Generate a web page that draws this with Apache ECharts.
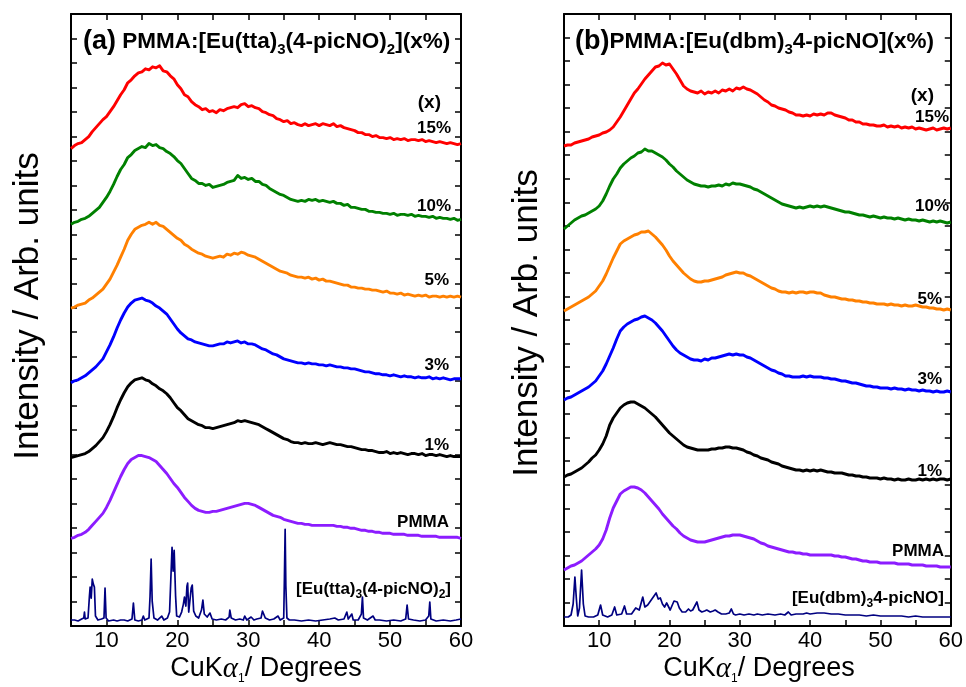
<!DOCTYPE html>
<html>
<head>
<meta charset="utf-8">
<script src="https://cdn.jsdelivr.net/npm/echarts@6.0.0/dist/echarts.min.js"></script>
<style>
  html, body { margin: 0; padding: 0; background: #fff; }
  #chart { width: 966px; height: 687px; }
</style>
</head>
<body>
<div id="chart"></div>
<script>
// Diffraction angle grid (2θ, degrees) shared by the amorphous patterns
const twoTheta = [
  5, 5.5, 6, 6.5, 7, 7.5, 8, 8.5, 9, 9.5,
  10, 10.5, 11, 11.5, 12, 12.5, 13, 13.5, 14, 14.5,
  15, 15.5, 16, 16.5, 17, 17.5, 18, 18.5, 19, 19.5,
  20, 20.5, 21, 21.5, 22, 22.5, 23, 23.5, 24, 24.5,
  25, 25.5, 26, 26.5, 27, 27.5, 28, 28.5, 29, 29.5,
  30, 30.5, 31, 31.5, 32, 32.5, 33, 33.5, 34, 34.5,
  35, 35.5, 36, 36.5, 37, 37.5, 38, 38.5, 39, 39.5,
  40, 40.5, 41, 41.5, 42, 42.5, 43, 43.5, 44, 44.5,
  45, 45.5, 46, 46.5, 47, 47.5, 48, 48.5, 49, 49.5,
  50, 50.5, 51, 51.5, 52, 52.5, 53, 53.5, 54, 54.5,
  55, 55.5, 56, 56.5, 57, 57.5, 58, 58.5, 59, 59.5,
  60
];

// ---- Panel (a): PMMA:[Eu(tta)3(4-picNO)2] films (stacked intensity, arb. units) ----
const ttaX15 = [
  479,482,484,485,488,491,496,500,504,508,
  511,516,521,527,533,538,545,548,552,555,
  556,559,558,561,560,562,557,556,552,549,
  543,539,533,531,526,523,521,518,519,516,
  517,515,518,517,519,520,521,520,523,524,
  521,522,520,519,516,515,513,512,509,508,
  506,507,504,505,503,502,504,502,503,504,
  502,504,503,502,504,501,502,500,499,498,
  497,495,495,493,493,491,492,490,490,489,
  490,488,489,488,489,487,488,488,487,488,
  486,487,486,485,486,485,484,485,484,483,
  484
];
const ttaX10 = [
  403,405,406,408,409,411,414,417,420,425,
  430,436,443,451,458,463,470,473,477,479,
  481,480,484,482,483,480,479,476,474,471,
  467,464,459,454,449,447,444,444,442,443,
  440,441,442,443,445,446,447,452,449,450,
  448,449,446,446,443,442,439,437,435,433,
  432,430,428,427,426,427,426,428,427,428,
  426,427,426,425,426,424,424,422,423,420,
  420,419,418,418,416,416,415,415,414,414,
  413,414,412,413,413,412,413,411,412,411,
  411,410,411,409,410,409,409,408,409,407,
  408
];
const ttaX5 = [
  319,320,322,323,324,327,329,332,335,338,
  343,348,355,362,370,378,387,393,398,400,
  402,403,405,403,405,402,401,398,395,392,
  389,387,383,381,378,376,374,373,371,370,
  369,370,371,370,373,372,374,373,375,374,
  372,371,370,368,366,364,362,360,358,356,
  355,354,352,351,350,350,349,350,348,349,
  347,348,346,346,345,344,343,342,342,340,
  340,339,339,338,338,337,337,336,335,336,
  334,334,333,334,332,333,332,331,332,331,
  332,330,331,331,330,331,330,331,330,331,
  330
];
const ttaX3 = [
  244,246,247,249,251,254,257,260,264,268,
  275,282,290,299,307,314,320,324,327,328,
  329,327,326,324,321,319,316,313,308,303,
  298,294,291,288,287,285,284,283,282,281,
  281,282,283,283,285,284,285,286,284,285,
  283,283,282,280,278,277,275,273,272,270,
  268,267,266,265,264,264,263,264,263,263,
  262,262,261,262,261,260,260,259,259,258,
  258,257,256,255,255,254,253,253,252,252,
  251,252,251,250,251,250,250,249,250,249,
  249,250,248,249,248,249,248,247,248,248,
  248
];
const ttaX1 = [
  169,170,171,172,173,175,178,181,185,189,
  195,202,210,219,227,234,240,244,247,248,
  249,247,246,243,241,238,236,233,229,224,
  219,216,212,208,206,204,202,201,199,199,
  198,199,200,201,202,203,204,206,205,206,
  205,204,203,202,200,198,196,194,192,190,
  188,187,185,184,184,183,184,183,183,184,
  183,182,183,184,183,182,182,181,180,180,
  179,178,177,177,176,176,175,174,174,175,
  173,174,173,174,173,172,173,173,172,173,
  171,172,172,171,172,171,170,171,170,170,
  170
];
const pmmaA = [
  88,89,91,92,94,97,101,105,109,113,
  119,126,134,142,150,157,163,167,169,171,
  171,170,169,167,165,161,157,153,148,143,
  139,134,129,125,121,118,116,115,114,114,
  115,115,116,117,118,119,120,121,122,123,
  123,122,121,119,117,115,113,111,110,109,
  107,106,105,104,103,103,102,102,101,101,
  101,101,101,101,101,100,100,99,99,98,
  98,97,96,96,95,95,94,94,93,93,
  93,92,92,92,92,91,91,91,91,90,
  90,90,90,90,89,89,89,89,89,89,
  88
];
// Crystalline complex [Eu(tta)3(4-picNO)2]: [2θ, intensity]
const ttaComplex = [
  [5,6],[5.5,6],[6,5],[6.5,7],[6.8,8],[6.9,14],[7.0,7],[7.4,8],[7.6,30],[7.7,39],
  [7.85,28],[8.0,47],[8.15,42],[8.3,39],[8.45,10],[8.8,6],[9.3,7],[9.65,8],[9.8,38],[9.95,8],
  [10.3,5],[11,6],[11.5,5],[12,6],[12.5,6],[13,5],[13.6,7],[13.8,23],[14.0,6],[14.5,5],
  [15,6],[15.2,10],[15.4,6],[16.0,8],[16.15,30],[16.3,67],[16.45,25],[16.7,8],[17.2,6],[17.8,10],
  [18.1,6],[18.6,8],[18.9,14],[19.1,12],[19.25,79],[19.4,55],[19.55,76],[19.75,30],[19.9,10],[20.3,9],
  [20.6,14],[20.85,22],[21.0,29],[21.2,20],[21.35,40],[21.45,43],[21.6,14],[21.8,16],[21.95,38],[22.1,41],
  [22.3,15],[22.6,10],[23.0,8],[23.4,16],[23.6,26],[23.8,12],[24.2,9],[24.6,13],[24.9,7],[25.5,6],
  [26.2,7],[26.8,6],[27.3,9],[27.4,16],[27.6,8],[28.2,6],[28.8,7],[29.3,6],[29.5,10],[29.8,6],
  [30.4,9],[30.8,6],[31.2,7],[31.8,8],[32.0,15],[32.2,16],[32.4,8],[33,6],[33.6,7],[34.2,10],
  [34.5,6],[35.0,8],[35.1,50],[35.2,97],[35.3,40],[35.45,8],[35.8,6],[36.5,6],[37.5,5],[38.5,6],
  [39.5,5],[40.5,6],[41.5,7],[42.2,8],[42.7,6],[43.5,7],[43.9,14],[44.1,7],[44.6,12],[44.8,6],
  [45.5,6],[45.95,12],[46.1,29],[46.25,8],[46.8,6],[47.6,10],[47.9,6],[48.5,6],[49.5,5],[50.5,6],
  [51.5,5],[52.2,7],[52.4,21],[52.6,7],[53.3,6],[54.2,5],[55.0,6],[55.45,10],[55.6,24],[55.75,7],
  [56.5,5],[57.5,6],[58.5,5],[59.3,6],[60,7]
];

// ---- Panel (b): PMMA:[Eu(dbm)3 4-picNO] films ----
const dbmX15 = [
  480,481,481,483,484,485,486,487,489,490,
  491,493,494,496,499,504,509,515,521,527,
  533,537,542,547,551,555,559,560,563,561,
  562,557,552,546,540,537,535,534,533,535,
  532,534,533,535,533,536,535,537,535,538,
  537,539,537,536,534,532,529,526,524,521,
  520,518,517,516,514,513,511,511,510,511,
  510,512,511,512,511,513,513,511,510,509,
  508,506,506,504,504,502,502,501,501,500,
  500,501,499,500,499,500,498,499,498,499,
  497,498,497,496,497,498,496,497,498,497,
  498
];
const dbmX10 = [
  397,400,403,406,408,410,411,413,415,417,
  420,425,432,440,447,452,458,462,465,468,
  470,473,474,477,475,475,473,471,469,466,
  462,459,455,452,449,446,444,442,441,440,
  440,439,440,440,441,440,442,441,443,442,
  442,441,440,439,437,436,434,432,430,428,
  426,424,422,421,420,419,418,419,418,419,
  420,419,420,419,420,419,418,417,416,415,
  414,414,413,412,411,411,410,409,410,409,
  408,409,408,408,407,408,407,406,407,406,
  406,405,406,405,404,405,404,405,404,403,
  404
];
const dbmX5 = [
  315,317,319,321,323,325,327,329,332,335,
  340,345,352,360,368,375,382,385,387,389,
  391,392,394,394,395,392,389,385,381,376,
  370,365,361,357,353,350,347,345,344,344,
  345,345,346,347,348,349,351,352,353,354,
  353,353,351,350,348,346,344,342,340,338,
  337,335,334,334,333,334,333,334,334,333,
  334,334,333,333,331,330,329,329,328,327,
  327,326,326,325,325,324,324,323,323,322,
  322,322,321,322,321,321,320,321,320,320,
  321,320,319,319,318,318,317,317,316,317,
  316
];
const dbmX3 = [
  226,228,229,231,233,235,237,239,242,245,
  250,255,262,270,278,287,295,299,302,304,
  306,307,309,310,308,306,303,299,295,290,
  285,280,276,273,271,269,267,266,266,265,
  267,266,268,268,269,270,271,272,271,272,
  271,271,269,268,266,264,262,260,258,256,
  255,253,252,250,250,249,249,249,250,249,
  250,249,249,249,248,248,247,247,246,245,
  245,244,243,243,242,241,240,240,239,239,
  238,238,238,237,238,237,237,236,237,236,
  236,235,236,235,235,234,235,234,234,235,
  234
];
const dbmX1 = [
  149,151,152,154,156,158,161,164,168,171,
  176,182,190,201,208,213,218,221,223,224,
  224,222,220,218,215,212,209,205,201,197,
  193,190,187,184,181,179,178,177,176,176,
  176,176,177,177,178,178,179,179,178,178,
  177,176,174,173,171,170,168,167,166,164,
  163,162,160,159,158,157,156,156,155,156,
  155,156,155,156,155,154,154,153,153,153,
  152,151,151,150,150,149,149,148,148,148,
  147,148,147,147,146,147,146,146,147,146,
  146,147,146,147,146,147,146,147,147,146,
  147
];
const pmmaB = [
  56,58,60,61,63,65,68,71,74,77,
  81,87,96,108,118,125,132,135,137,139,
  139,138,136,133,129,125,121,117,112,108,
  104,100,97,93,90,88,86,85,84,84,
  84,85,86,87,88,89,90,90,91,91,
  91,90,89,88,87,85,83,82,80,79,
  78,77,76,75,74,74,73,73,72,72,
  71,71,71,71,71,71,71,70,70,69,
  69,68,67,67,66,65,65,64,64,64,
  63,63,63,63,63,62,62,62,62,61,
  61,61,61,60,60,60,60,59,59,59,
  59
];
// Crystalline complex [Eu(dbm)3 4-picNO]: [2θ, intensity]
const dbmComplex = [
  [5,9],[5.6,9],[6.0,11],[6.3,22],[6.55,49],[6.75,28],[6.95,10],[7.2,18],[7.5,56],[7.75,22],
  [8.0,10],[8.5,9],[9.2,9],[9.8,11],[10.2,21],[10.5,11],[11.2,9],[11.8,11],[12.2,19],[12.5,11],
  [13.2,12],[13.6,20],[13.9,12],[14.6,12],[15.2,18],[15.7,16],[16.2,29],[16.5,19],[16.9,21],[17.3,25],
  [17.6,28],[17.8,26],[18.1,33],[18.4,27],[18.7,28],[19.0,22],[19.3,19],[19.6,23],[19.8,22],[20.1,16],
  [20.4,21],[20.65,25],[20.9,23],[21.1,24],[21.4,18],[21.8,14],[22.3,14],[22.7,17],[23.0,15],[23.3,16],
  [23.6,20],[23.9,24],[24.2,16],[24.6,14],[25.0,15],[25.3,16],[25.8,14],[26.2,15],[26.5,16],[26.9,14],
  [27.4,12],[28.0,12],[28.5,13],[28.8,17],[29.1,12],[29.4,11],[30.0,12],[30.6,11],[31.3,12],[32.0,11],
  [32.5,12],[33.2,11],[34.0,12],[35.0,11],[35.8,12],[36.4,11],[36.9,14],[37.3,11],[38.0,12],[39.0,12],
  [39.5,13],[40.0,12],[41.0,13],[42.0,13],[43.0,12],[44.0,12],[45.0,11],[46.0,11],[47.0,11],[48.0,10],
  [49.0,11],[50.0,10],[51.0,10],[52.0,10],[53.0,10],[54.0,9],[55.0,10],[56.0,9],[57.0,9],[58.0,9],
  [59.0,9],[60,9]
];

const loadingLabels = ['15%', '10%', '5%', '3%', '1%', 'PMMA'];

const FONT = '"Liberation Sans", Arial, Helvetica, sans-serif';
const COLORS = {
  x15: '#ff0000', x10: '#008000', x5: '#ff8000', x3: '#0000ff',
  x1: '#000000', pmma: '#8c1cff', complex: '#000080'
};
const AMORPHOUS_WIDTH = 2.9;
const COMPLEX_WIDTH = 1.7;

const chart = echarts.init(document.getElementById('chart'), null, { renderer: 'canvas' });

const pair = vals => twoTheta.map((t, i) => [t, vals[i]]);

function xAxisPair(gridIndex) {
  const line = { show: true, onZero: false, lineStyle: { color: '#000', width: 2 } };
  const tick = { show: true, inside: true, length: 6, lineStyle: { color: '#000', width: 1.5 } };
  return [
    {
      type: 'value', gridIndex, position: 'bottom', min: 5, max: 60, interval: 5,
      axisLine: line, axisTick: tick, splitLine: { show: false },
      axisLabel: {
        color: '#000', fontSize: 22, fontFamily: FONT, margin: 4,
        showMinLabel: true, showMaxLabel: true,
        formatter: v => (v % 10 === 0 ? String(v) : '')
      }
    },
    {
      type: 'value', gridIndex, position: 'top', min: 5, max: 60, interval: 5,
      axisLine: line, axisTick: tick, splitLine: { show: false }, axisLabel: { show: false }
    }
  ];
}

function yAxisPair(gridIndex, max, steps) {
  const line = { show: true, onZero: false, lineStyle: { color: '#000', width: 2 } };
  const tick = { show: true, inside: true, length: 6, lineStyle: { color: '#000', width: 1.5 } };
  const common = {
    type: 'value', gridIndex, min: 0, max, interval: max / steps,
    axisLine: line, axisTick: tick, splitLine: { show: false }, axisLabel: { show: false }
  };
  return [
    Object.assign({ position: 'left' }, common),
    Object.assign({ position: 'right' }, common)
  ];
}

function curve(name, xi, yi, data, color, width) {
  return {
    name, type: 'line', xAxisIndex: xi, yAxisIndex: yi, data,
    showSymbol: false, symbol: 'none', silent: true, animation: false,
    lineStyle: { color, width, join: 'round' }, itemStyle: { color }
  };
}

function label(text, x, y, size, align) {
  return {
    type: 'text', x, y, silent: true,
    style: {
      text, fill: '#000', font: 'bold ' + size + 'px ' + FONT,
      fontSize: size, fontWeight: 'bold', fontFamily: FONT,
      align: align || 'right', textAlign: align || 'right',
      verticalAlign: 'middle', textVerticalAlign: 'middle'
    }
  };
}

function richLabel(text, x, y, rich, align) {
  return {
    type: 'text', x, y, silent: true,
    style: {
      text, rich, fill: '#000',
      align: align || 'left', textAlign: align || 'left',
      verticalAlign: 'middle', textVerticalAlign: 'middle'
    }
  };
}

const titleRich = {
  p: { fontSize: 27, fontWeight: 'bold', fontFamily: FONT, lineHeight: 30, fill: '#000', color: '#000' },
  t: { fontSize: 22.5, fontWeight: 'bold', fontFamily: FONT, lineHeight: 30, fill: '#000', color: '#000' },
  s: { fontSize: 15, fontWeight: 'bold', fontFamily: FONT, lineHeight: 16, verticalAlign: 'bottom', fill: '#000', color: '#000' }
};
const tagRich = {
  t: { fontSize: 17, fontWeight: 'bold', fontFamily: FONT, lineHeight: 24, fill: '#000', color: '#000' },
  s: { fontSize: 12, fontWeight: 'bold', fontFamily: FONT, lineHeight: 12, verticalAlign: 'bottom', fill: '#000', color: '#000' }
};
const axisTitleRich = {
  t: { fontSize: 27, fontFamily: FONT, lineHeight: 32, fill: '#000', color: '#000' },
  g: { fontSize: 29, fontFamily: '"Liberation Serif", "DejaVu Serif", serif', fontStyle: 'italic', lineHeight: 32, fill: '#000', color: '#000' },
  s: { fontSize: 12, fontFamily: FONT, lineHeight: 12, verticalAlign: 'bottom', fill: '#000', color: '#000' }
};

function yTitle(x, y) {
  return {
    type: 'text', x, y, rotation: Math.PI / 2, silent: true,
    style: {
      text: 'Intensity / Arb. units', fill: '#000',
      font: '35px ' + FONT, fontSize: 35, fontFamily: FONT,
      align: 'center', textAlign: 'center', verticalAlign: 'middle', textVerticalAlign: 'middle'
    }
  };
}

const option = {
  backgroundColor: '#fff',
  animation: false,
  grid: [
    { left: 71, top: 14, width: 390, height: 612, containLabel: false },
    { left: 564, top: 14, width: 390, height: 612, containLabel: false }
  ],
  xAxis: [...xAxisPair(0), ...xAxisPair(1)],
  yAxis: [...yAxisPair(0, 614, 25), ...yAxisPair(1, 612, 26)],
  series: [
    curve('[Eu(tta)3(4-picNO)2]', 0, 0, ttaComplex, COLORS.complex, COMPLEX_WIDTH),
    curve(loadingLabels[5], 0, 0, pair(pmmaA), COLORS.pmma, AMORPHOUS_WIDTH),
    curve(loadingLabels[4], 0, 0, pair(ttaX1), COLORS.x1, AMORPHOUS_WIDTH),
    curve(loadingLabels[3], 0, 0, pair(ttaX3), COLORS.x3, AMORPHOUS_WIDTH),
    curve(loadingLabels[2], 0, 0, pair(ttaX5), COLORS.x5, AMORPHOUS_WIDTH),
    curve(loadingLabels[1], 0, 0, pair(ttaX10), COLORS.x10, AMORPHOUS_WIDTH),
    curve(loadingLabels[0], 0, 0, pair(ttaX15), COLORS.x15, AMORPHOUS_WIDTH),

    curve('[Eu(dbm)3 4-picNO]', 2, 2, dbmComplex, COLORS.complex, COMPLEX_WIDTH),
    curve(loadingLabels[5], 2, 2, pair(pmmaB), COLORS.pmma, AMORPHOUS_WIDTH),
    curve(loadingLabels[4], 2, 2, pair(dbmX1), COLORS.x1, AMORPHOUS_WIDTH),
    curve(loadingLabels[3], 2, 2, pair(dbmX3), COLORS.x3, AMORPHOUS_WIDTH),
    curve(loadingLabels[2], 2, 2, pair(dbmX5), COLORS.x5, AMORPHOUS_WIDTH),
    curve(loadingLabels[1], 2, 2, pair(dbmX10), COLORS.x10, AMORPHOUS_WIDTH),
    curve(loadingLabels[0], 2, 2, pair(dbmX15), COLORS.x15, AMORPHOUS_WIDTH)
  ],
  graphic: [
    // panel titles
    richLabel('{p|(a)}{t| PMMA:[Eu(tta)}{s|3}{t|(4-picNO)}{s|2}{t|](x%)}', 83, 42, titleRich),
    richLabel('{p|(b)}{t|PMMA:[Eu(dbm)}{s|3}{t|4-picNO](x%)}', 575, 42, titleRich),

    // loading tags, panel (a)
    label('(x)', 441, 103, 19),
    label(loadingLabels[0], 451, 128, 17),
    label(loadingLabels[1], 451, 206, 17),
    label(loadingLabels[2], 449, 280, 17),
    label(loadingLabels[3], 449, 365, 17),
    label(loadingLabels[4], 449, 445, 17),
    label(loadingLabels[5], 449, 522, 17),
    richLabel('{t|[Eu(tta)}{s|3}{t|(4-picNO)}{s|2}{t|]}', 451, 589, tagRich, 'right'),

    // loading tags, panel (b)
    label('(x)', 934, 96, 19),
    label(loadingLabels[0], 949, 117, 17),
    label(loadingLabels[1], 949, 206, 17),
    label(loadingLabels[2], 942, 299, 17),
    label(loadingLabels[3], 942, 379, 17),
    label(loadingLabels[4], 942, 471, 17),
    label(loadingLabels[5], 944, 551, 17),
    richLabel('{t|[Eu(dbm)}{s|3}{t|4-picNO]}', 944, 598, tagRich, 'right'),

    // axis titles
    richLabel('{t|CuK}{g|α}{s|1}{t|/ Degrees}', 266, 669, axisTitleRich, 'center'),
    richLabel('{t|CuK}{g|α}{s|1}{t|/ Degrees}', 759, 669, axisTitleRich, 'center'),
    yTitle(28, 306),
    yTitle(527, 323)
  ]
};

chart.setOption(option);
</script>
</body>
</html>
